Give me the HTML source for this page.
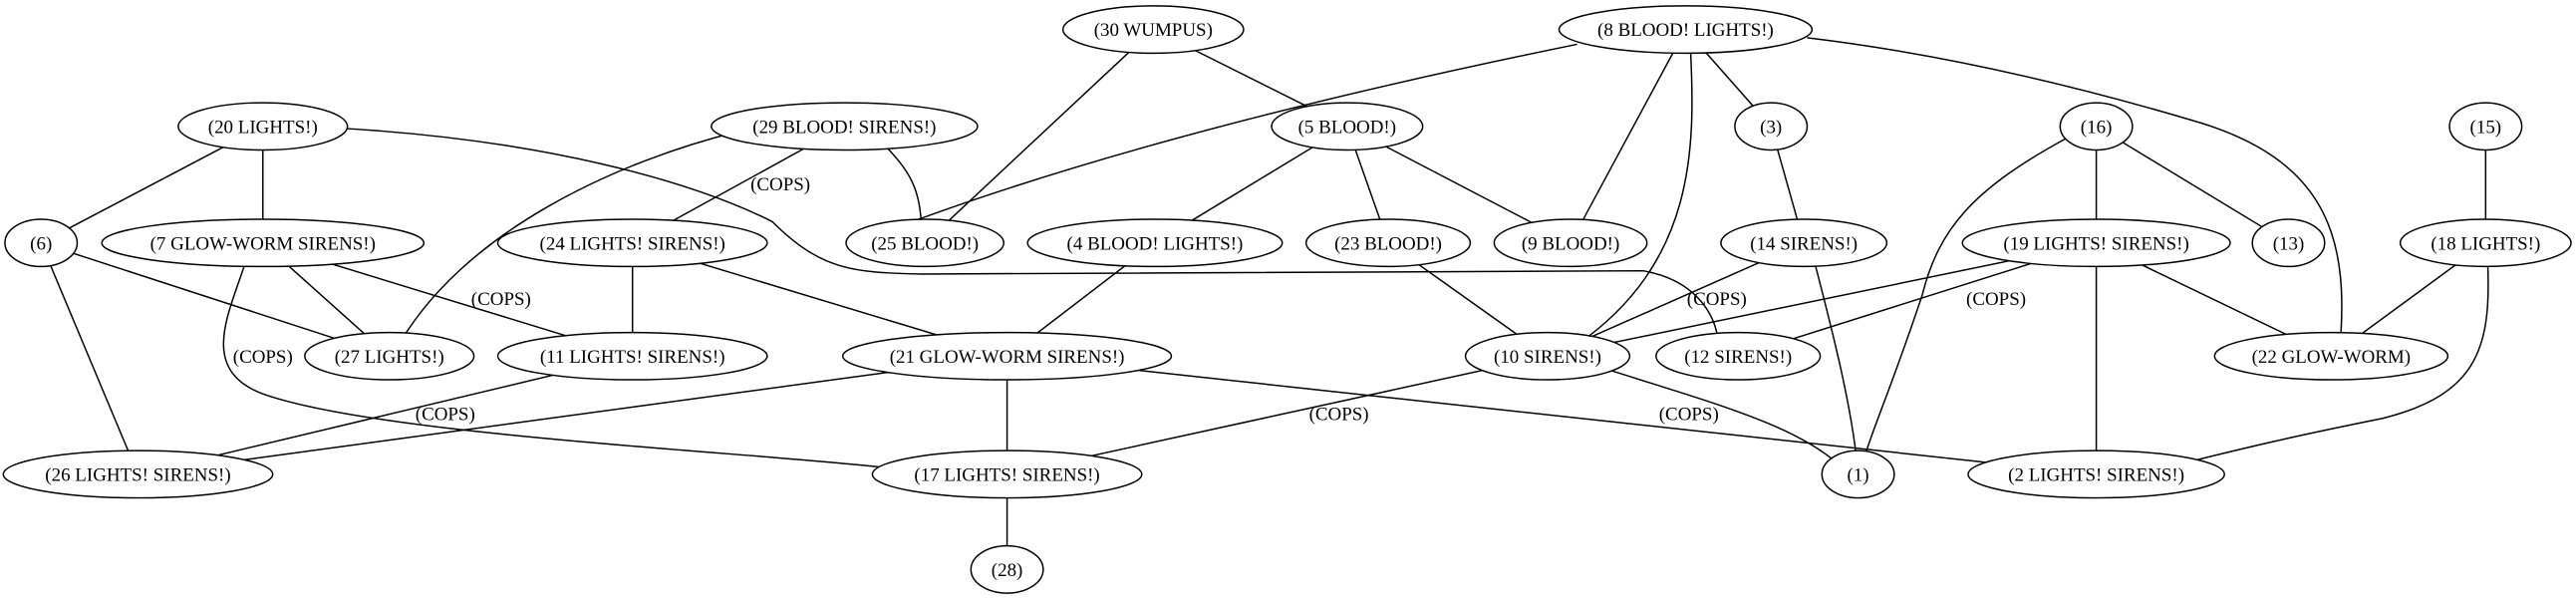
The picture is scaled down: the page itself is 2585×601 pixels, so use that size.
<!DOCTYPE html>
<html><head><meta charset="utf-8"><style>html,body{margin:0;padding:0;background:#fff;width:2585px;height:601px;overflow:hidden}svg{display:block}</style></head><body>
<svg width="2585" height="601" viewBox="0 0 1568 365" preserveAspectRatio="none" xmlns="http://www.w3.org/2000/svg">
<g stroke="#000" stroke-width="0.9" fill="none">
<line x1="702" y1="18" x2="563" y2="148"/>
<line x1="702" y1="18" x2="820" y2="77"/>
<path d="M960,27 Q700,80 542,140"/>
<line x1="1026" y1="18" x2="956" y2="148"/>
<path d="M1029,30 C1032,90 1032,160 960,210"/>
<line x1="1026" y1="18" x2="1078" y2="77"/>
<path d="M1100,23 C1200,35 1290,60 1340,75 C1420,100 1430,150 1424,215"/>
<line x1="160" y1="77" x2="25" y2="148"/>
<line x1="160" y1="77" x2="160" y2="148"/>
<path d="M205,78 C330,85 420,110 470,135 C500,165 520,166 560,167 L1000,165 C1030,170 1045,190 1046,210"/>
<path d="M450,80 C380,97 280,140 240,215"/>
<line x1="514" y1="77" x2="385" y2="148"/>
<path d="M535,85 C555,105 560,115 561,140"/>
<line x1="820" y1="77" x2="703" y2="148"/>
<line x1="820" y1="77" x2="845" y2="148"/>
<line x1="820" y1="77" x2="956" y2="148"/>
<line x1="1078" y1="77" x2="1098" y2="148"/>
<path d="M1262,82 C1200,115 1180,140 1170,180 C1150,240 1140,260 1133,285"/>
<line x1="1276" y1="77" x2="1276" y2="148"/>
<line x1="1276" y1="77" x2="1393" y2="148"/>
<line x1="1513" y1="77" x2="1513" y2="148"/>
<line x1="25" y1="148" x2="237" y2="217"/>
<line x1="25" y1="148" x2="84" y2="289"/>
<line x1="160" y1="148" x2="237" y2="217"/>
<line x1="160" y1="148" x2="385" y2="217"/>
<path d="M150,158 C140,190 120,225 160,240 C230,265 450,275 540,285"/>
<line x1="385" y1="148" x2="385" y2="217"/>
<line x1="385" y1="148" x2="613" y2="217"/>
<line x1="703" y1="148" x2="613" y2="217"/>
<line x1="845" y1="148" x2="942" y2="217"/>
<line x1="1098" y1="148" x2="942" y2="217"/>
<path d="M1102,150 C1115,200 1128,250 1131,289"/>
<line x1="1276" y1="148" x2="942" y2="217"/>
<line x1="1276" y1="148" x2="1058" y2="217"/>
<line x1="1276" y1="148" x2="1276" y2="289"/>
<line x1="1276" y1="148" x2="1419" y2="217"/>
<line x1="1513" y1="148" x2="1419" y2="217"/>
<path d="M1514,155 C1517,210 1510,240 1450,255 C1400,265 1370,272 1330,282"/>
<line x1="385" y1="217" x2="84" y2="289"/>
<line x1="613" y1="217" x2="84" y2="289"/>
<line x1="613" y1="217" x2="613" y2="289"/>
<line x1="613" y1="217" x2="1276" y2="289"/>
<line x1="942" y1="217" x2="613" y2="289"/>
<path d="M975,224 C1040,245 1100,260 1125,289"/>
<line x1="613" y1="289" x2="613" y2="347"/>
</g>
<g stroke="#000" stroke-width="0.9" fill="#fff">
<ellipse cx="702" cy="18" rx="55" ry="14.4"/>
<ellipse cx="1026" cy="18" rx="77" ry="14.4"/>
<ellipse cx="160" cy="77" rx="51.5" ry="14.4"/>
<ellipse cx="514" cy="77" rx="81" ry="14.4"/>
<ellipse cx="820" cy="77" rx="46" ry="14.4"/>
<ellipse cx="1078" cy="77" rx="22" ry="14.4"/>
<ellipse cx="1276" cy="77" rx="22" ry="14.4"/>
<ellipse cx="1513" cy="77" rx="22" ry="14.4"/>
<ellipse cx="25" cy="148" rx="22" ry="14.4"/>
<ellipse cx="160" cy="148" rx="98" ry="14.4"/>
<ellipse cx="385" cy="148" rx="82" ry="14.4"/>
<ellipse cx="563" cy="148" rx="48" ry="14.4"/>
<ellipse cx="703" cy="148" rx="77.5" ry="14.4"/>
<ellipse cx="845" cy="148" rx="50" ry="14.4"/>
<ellipse cx="956" cy="148" rx="46.5" ry="14.4"/>
<ellipse cx="1098" cy="148" rx="50.5" ry="14.4"/>
<ellipse cx="1276" cy="148" rx="81.5" ry="14.4"/>
<ellipse cx="1393" cy="148" rx="22" ry="14.4"/>
<ellipse cx="1513" cy="148" rx="52" ry="14.4"/>
<ellipse cx="237" cy="217" rx="51.5" ry="14.4"/>
<ellipse cx="385" cy="217" rx="82" ry="14.4"/>
<ellipse cx="613" cy="217" rx="100" ry="14.4"/>
<ellipse cx="942" cy="217" rx="50" ry="14.4"/>
<ellipse cx="1058" cy="217" rx="50" ry="14.4"/>
<ellipse cx="1419" cy="217" rx="71" ry="14.4"/>
<ellipse cx="84" cy="289" rx="82" ry="14.4"/>
<ellipse cx="613" cy="289" rx="82" ry="14.4"/>
<ellipse cx="1131" cy="289" rx="22" ry="14.4"/>
<ellipse cx="1276" cy="289" rx="78" ry="14.4"/>
<ellipse cx="613" cy="347" rx="22" ry="14.4"/>
</g>
<g font-family="Liberation Serif, serif" font-size="11.5" text-anchor="middle" fill="#000">
<text x="702" y="22">(30 WUMPUS)</text>
<text x="1026" y="22">(8 BLOOD! LIGHTS!)</text>
<text x="160" y="81">(20 LIGHTS!)</text>
<text x="514" y="81">(29 BLOOD! SIRENS!)</text>
<text x="820" y="81">(5 BLOOD!)</text>
<text x="1078" y="81">(3)</text>
<text x="1276" y="81">(16)</text>
<text x="1513" y="81">(15)</text>
<text x="25" y="152">(6)</text>
<text x="160" y="152">(7 GLOW-WORM SIRENS!)</text>
<text x="385" y="152">(24 LIGHTS! SIRENS!)</text>
<text x="563" y="152">(25 BLOOD!)</text>
<text x="703" y="152">(4 BLOOD! LIGHTS!)</text>
<text x="845" y="152">(23 BLOOD!)</text>
<text x="956" y="152">(9 BLOOD!)</text>
<text x="1098" y="152">(14 SIRENS!)</text>
<text x="1276" y="152">(19 LIGHTS! SIRENS!)</text>
<text x="1393" y="152">(13)</text>
<text x="1513" y="152">(18 LIGHTS!)</text>
<text x="237" y="221">(27 LIGHTS!)</text>
<text x="385" y="221">(11 LIGHTS! SIRENS!)</text>
<text x="613" y="221">(21 GLOW-WORM SIRENS!)</text>
<text x="942" y="221">(10 SIRENS!)</text>
<text x="1058" y="221">(12 SIRENS!)</text>
<text x="1419" y="221">(22 GLOW-WORM)</text>
<text x="84" y="293">(26 LIGHTS! SIRENS!)</text>
<text x="613" y="293">(17 LIGHTS! SIRENS!)</text>
<text x="1131" y="293">(1)</text>
<text x="1276" y="293">(2 LIGHTS! SIRENS!)</text>
<text x="613" y="351">(28)</text>
<text x="475" y="116">(COPS)</text>
<text x="305" y="186">(COPS)</text>
<text x="160" y="221">(COPS)</text>
<text x="271" y="256">(COPS)</text>
<text x="815" y="256">(COPS)</text>
<text x="1028" y="256">(COPS)</text>
<text x="1045" y="186">(COPS)</text>
<text x="1215" y="186">(COPS)</text>
</g>
</svg>
</body></html>
